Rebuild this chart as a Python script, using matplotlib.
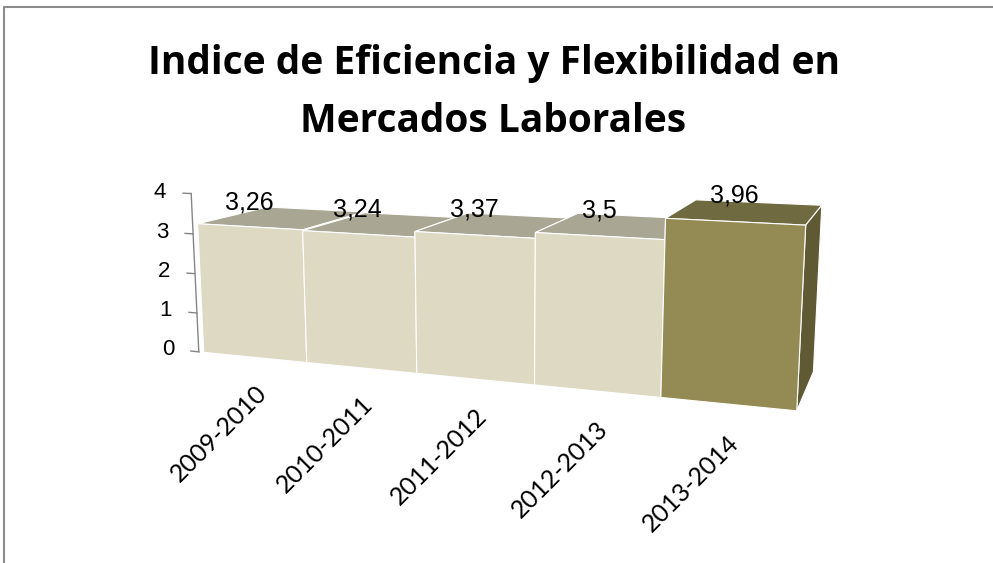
import numpy as np
import matplotlib.pyplot as plt
from matplotlib.lines import Line2D
from mpl_toolkits.mplot3d import proj3d

categories = ["2009-2010", "2010-2011", "2011-2012", "2012-2013", "2013-2014"]
values = [3.26, 3.24, 3.37, 3.5, 3.96]
value_labels = ["3,26", "3,24", "3,37", "3,5", "3,96"]
z_ticks = [0, 1, 2, 3, 4]

# face colours: bottom, top, front, back, left, right
light = ["#DDD9C3", "#A9A693", "#DDD9C3", "#DDD9C3", "#C9C5AE", "#BDB9A2"]
dark = ["#948A54", "#6F6A40", "#948A54", "#948A54", "#7E7645", "#5F5934"]

fig = plt.figure(figsize=(9.93, 5.63), dpi=100)
# chart frame (only top and left edges show in the original)
fig.lines.append(Line2D([0.004, 0.004, 1.0], [0.0, 0.987, 0.987], transform=fig.transFigure,
                        color="#8C8C8C", lw=1.5))

fig.text(0.497, 0.922, "Indice de Eficiencia y Flexibilidad en\nMercados Laborales",
         ha="center", va="top", fontsize=28, fontweight="bold",
         family=["Liberation Sans Narrow", "Open Sans"], linespacing=1.65)

ax = fig.add_axes([-0.006, -0.09, 1.0, 1.15], projection="3d")
ax.set_proj_type("persp", focal_length=0.35)
ax.view_init(elev=11, azim=-70)

x = np.arange(len(values))
facecolors = []
for i in range(len(values)):
    facecolors += dark if i == len(values) - 1 else light
bars = ax.bar3d(x, np.zeros(len(x)), np.zeros(len(x)), 1, 1, values,
                color=facecolors, shade=False, edgecolor="white", linewidth=0.8)
bars.set_clip_on(False)

ax.set_xlim(0, len(values))
ax.set_ylim(0, 1)
ax.set_zlim(0, 4)
ax.set_box_aspect((3.5, 0.8, 0.96), zoom=0.965)

# value axis drawn by hand on the left edge
axis_line, = ax.plot([-0.05, -0.05], [0, 0], [0, 4], color="#868686", lw=1)
axis_line.set_clip_on(False)
for t in z_ticks:
    tick, = ax.plot([-0.05, -0.13], [0, 0], [t, t], color="#868686", lw=1)
    tick.set_clip_on(False)
    ax.text(-0.3, 0, t, str(t), ha="right", va="center", fontsize=16,
            family="Liberation Sans")

for i, v in enumerate(values):
    ax.text(i + 0.5, 0, v + 0.3, value_labels[i], ha="center", va="bottom",
            fontsize=18, family="Liberation Sans")

M = ax.get_proj()
for i, c in enumerate(categories):
    px, py, _ = proj3d.proj_transform(i + 0.5, 0, -0.6, M)
    ax.text2D(px, py, c, transform=ax.transData, ha="right", va="top",
              rotation=45, rotation_mode="anchor", fontsize=18, family="Lato")

ax.set_xticks([])
ax.set_yticks([])
ax.set_zticks([])
for axis in (ax.xaxis, ax.yaxis, ax.zaxis):
    axis.label.set_visible(False)
    axis.offsetText.set_visible(False)
ax.set_axis_off()

fig.savefig("out.png", dpi=100)
